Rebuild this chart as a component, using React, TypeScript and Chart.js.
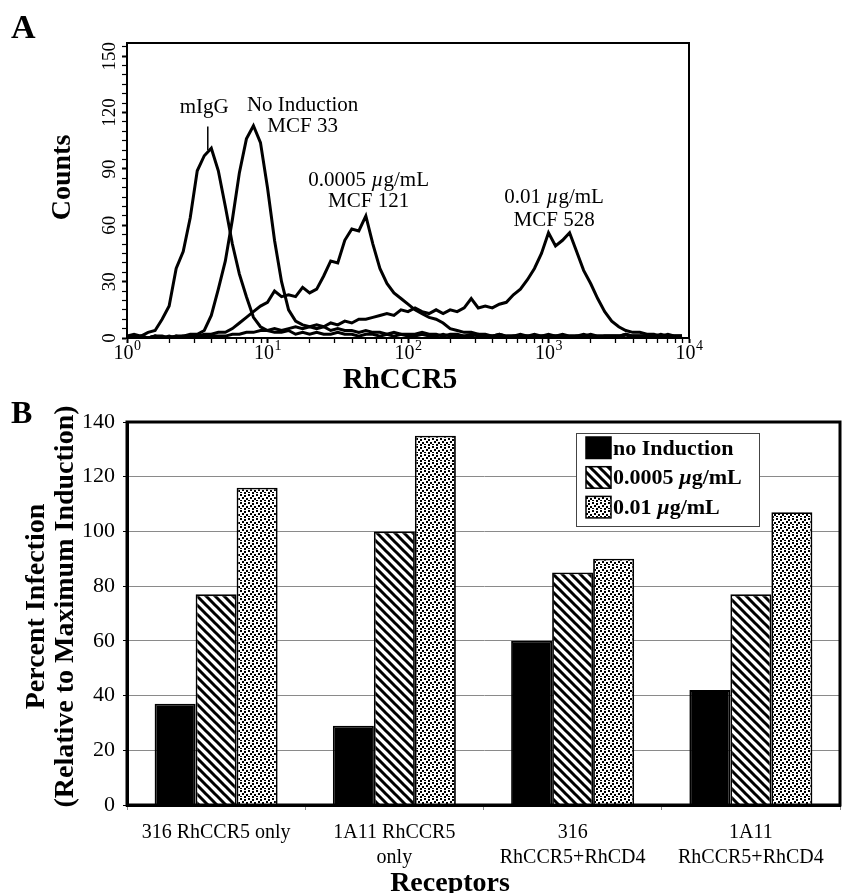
import React, { useEffect, useRef } from 'react';
import { Chart, registerables } from 'chart.js';

Chart.register(...registerables);

const SERIF = '"Liberation Serif", "Times New Roman", Times, serif';

// ---------------- Panel A: flow cytometry histograms ----------------
// channel positions (log10 of RhCCR5 fluorescence)
const channelExponents = [
  0, 0.05, 0.1, 0.15, 0.2, 0.25, 0.3, 0.35, 0.4, 0.45,
  0.5, 0.55, 0.6, 0.65, 0.7, 0.75, 0.8, 0.85, 0.9, 0.95,
  1, 1.05, 1.1, 1.15, 1.2, 1.25, 1.3, 1.35, 1.4, 1.45,
  1.5, 1.55, 1.6, 1.65, 1.7, 1.75, 1.8, 1.85, 1.9, 1.95,
  2, 2.05, 2.1, 2.15, 2.2, 2.25, 2.3, 2.35, 2.4, 2.45,
  2.5, 2.55, 2.6, 2.65, 2.7, 2.75, 2.8, 2.85, 2.9, 2.95,
  3, 3.05, 3.1, 3.15, 3.2, 3.25, 3.3, 3.35, 3.4, 3.45,
  3.5, 3.55, 3.6, 3.65, 3.7, 3.75, 3.8, 3.85, 3.9, 3.95,
];

const countsMIgG = [
  1, 2, 1, 3, 4, 10, 17, 37, 46, 64,
  89, 97, 101, 89, 70, 50, 34, 22, 11, 6,
  4, 3, 3, 4, 2, 3, 2, 3, 2, 2,
  3, 2, 2, 1, 2, 2, 1, 2, 1, 2,
  1, 1, 2, 1, 1, 2, 1, 1, 1, 2,
  1, 1, 1, 2, 1, 1, 1, 1, 2, 1,
  1, 1, 2, 1, 1, 1, 2, 1, 1, 1,
  1, 2, 1, 1, 1, 1, 2, 1, 1, 1,
];

const countsNoInduction = [
  1, 0, 1, 0, 1, 1, 0, 1, 1, 2,
  2, 4, 12, 26, 41, 63, 88, 106, 113, 104,
  80, 52, 30, 15, 9, 7, 6, 5, 6, 4,
  5, 4, 4, 3, 4, 3, 3, 2, 3, 2,
  2, 2, 3, 2, 2, 1, 2, 2, 1, 1,
  2, 1, 1, 1, 0, 1, 1, 1, 0, 1,
  1, 1, 1, 0, 1, 1, 1, 0, 1, 1,
  1, 0, 1, 1, 1, 0, 1, 1, 0, 1,
];

const counts00005 = [
  0, 0, 1, 0, 1, 0, 1, 0, 1, 1,
  1, 2, 2, 3, 3, 5, 8, 11, 14, 17,
  19, 25, 22, 23, 22, 27, 24, 26, 33, 41,
  40, 52, 58, 57, 65, 50, 37, 29, 24, 21,
  18, 15, 13, 11, 10, 8, 5, 4, 3, 3,
  2, 2, 1, 2, 1, 1, 2, 1, 1, 1,
  2, 1, 1, 1, 1, 2, 1, 1, 1, 1,
  1, 2, 1, 1, 1, 1, 1, 1, 1, 1,
];

const counts001 = [
  0, 1, 0, 0, 1, 0, 0, 1, 0, 1,
  0, 1, 1, 1, 1, 2, 2, 3, 3, 4,
  4, 5, 4, 5, 6, 5, 6, 7, 6, 8,
  7, 9, 8, 10, 10, 11, 12, 13, 12, 15,
  14, 16, 14, 13, 15, 13, 15, 14, 16, 21,
  16, 17, 16, 18, 19, 23, 26, 31, 37, 45,
  56, 49, 52, 56, 46, 36, 29, 21, 14, 9,
  6, 4, 3, 3, 2, 2, 1, 2, 1, 1,
];

const countTicks = [0, 30, 60, 90, 120, 150];
const decadeExponents = [0, 1, 2, 3, 4];

// ---------------- Panel B: infection bar chart ----------------
const receptorLabels = [
  ['316 RhCCR5 only'],
  ['1A11 RhCCR5', 'only'],
  ['316', 'RhCCR5+RhCD4'],
  ['1A11', 'RhCCR5+RhCD4'],
];
const seriesLabels = ['no Induction', '0.0005 µg/mL', '0.01 µg/mL'];
const infectionNoInduction = [37, 29, 60, 42];
const infection00005 = [77, 100, 85, 77];
const infection001 = [116, 135, 90, 107];

type Seg = { t: string; italic?: boolean };

function segsOf(text: string): Seg[] {
  return text
    .split(/(µ)/)
    .filter((s) => s.length > 0)
    .map((s) => ({ t: s, italic: s === 'µ' }));
}

function drawRich(
  ctx: CanvasRenderingContext2D,
  segs: Seg[],
  x: number,
  y: number,
  size: number,
  bold: boolean,
  align: 'center' | 'left'
) {
  const fontFor = (s: Seg) => `${s.italic ? 'italic ' : ''}${bold ? 'bold ' : ''}${size}px ${SERIF}`;
  let total = 0;
  const widths = segs.map((s) => {
    ctx.font = fontFor(s);
    const w = ctx.measureText(s.t).width;
    total += w;
    return w;
  });
  let cx = align === 'center' ? x - total / 2 : x;
  ctx.textAlign = 'left';
  ctx.textBaseline = 'alphabetic';
  segs.forEach((s, i) => {
    ctx.font = fontFor(s);
    ctx.fillText(s.t, cx, y);
    cx += widths[i];
  });
}

function makeHatch(): CanvasPattern | string {
  const s = 9;
  const c = document.createElement('canvas');
  c.width = s;
  c.height = s;
  const g = c.getContext('2d');
  if (!g) return '#888';
  g.fillStyle = '#fff';
  g.fillRect(0, 0, s, s);
  g.strokeStyle = '#000';
  g.lineWidth = 3;
  g.beginPath();
  g.moveTo(-1, -1);
  g.lineTo(s + 1, s + 1);
  g.moveTo(s - 3, -3);
  g.lineTo(s + 3, 3);
  g.moveTo(-3, s - 3);
  g.lineTo(3, s + 3);
  g.stroke();
  return g.createPattern(c, 'repeat') || '#888';
}

function makeDots(): CanvasPattern | string {
  const c = document.createElement('canvas');
  c.width = 8;
  c.height = 8;
  const g = c.getContext('2d');
  if (!g) return '#bbb';
  g.fillStyle = '#fff';
  g.fillRect(0, 0, 8, 8);
  g.fillStyle = '#000';
  g.fillRect(0, 0, 2, 2);
  g.fillRect(4, 1, 2, 2);
  g.fillRect(2, 3, 2, 2);
  g.fillRect(6, 4, 2, 2);
  g.fillRect(0, 6, 2, 1);
  g.fillRect(4, 6, 2, 2);
  return g.createPattern(c, 'repeat') || '#bbb';
}

export default function App() {
  const refA = useRef<HTMLCanvasElement>(null);
  const refB = useRef<HTMLCanvasElement>(null);

  useEffect(() => {
    if (!refA.current || !refB.current) return;

    const mkSeries = (arr: number[]) => channelExponents.map((e, i) => ({ x: Math.pow(10, e), y: arr[i] }));
    const lineStyle = {
      borderColor: '#000',
      borderWidth: 3,
      pointRadius: 0,
      fill: false,
      tension: 0,
      borderJoinStyle: 'miter',
    };

    const histDecor = {
      id: 'histDecor',
      afterDraw(chart: any) {
        const { ctx, chartArea: ca } = chart;
        const x = chart.scales.x;
        const y = chart.scales.y;
        ctx.save();
        ctx.strokeStyle = '#000';
        ctx.lineWidth = 2;
        ctx.strokeRect(ca.left, ca.top, ca.right - ca.left, ca.bottom - ca.top);
        ctx.fillStyle = '#000';

        // rotated count labels
        ctx.font = `19px ${SERIF}`;
        ctx.textAlign = 'center';
        ctx.textBaseline = 'alphabetic';
        countTicks.forEach((v) => {
          const py = y.getPixelForValue(v);
          ctx.save();
          ctx.translate(ca.left - 12, py);
          ctx.rotate(-Math.PI / 2);
          ctx.fillText(String(v), 0, 0);
          ctx.restore();
        });

        // decade labels 10^n
        decadeExponents.forEach((d) => {
          const px = x.getPixelForValue(Math.pow(10, d));
          ctx.font = `20px ${SERIF}`;
          const wb = ctx.measureText('10').width;
          ctx.font = `14px ${SERIF}`;
          const ws = ctx.measureText(String(d)).width;
          const x0 = px - (wb + ws) / 2;
          ctx.textAlign = 'left';
          ctx.font = `20px ${SERIF}`;
          ctx.fillText('10', x0, ca.bottom + 21);
          ctx.font = `14px ${SERIF}`;
          ctx.fillText(String(d), x0 + wb + 0.5, ca.bottom + 12);
        });

        // axis titles
        ctx.font = `bold 28px ${SERIF}`;
        ctx.textAlign = 'center';
        ctx.save();
        ctx.translate(70, (ca.top + ca.bottom) / 2 - 13);
        ctx.rotate(-Math.PI / 2);
        ctx.fillText('Counts', 0, 0);
        ctx.restore();
        ctx.font = `bold 29px ${SERIF}`;
        ctx.fillText('RhCCR5', (ca.left + ca.right) / 2 - 8, ca.bottom + 50);

        // panel letter
        ctx.font = `bold 34px ${SERIF}`;
        ctx.textAlign = 'left';
        ctx.fillText('A', 11, 38);

        // curve annotations (anchored in data space)
        const note = (lines: string[], exp: number, yVals: number[]) => {
          const px = x.getPixelForValue(Math.pow(10, exp));
          lines.forEach((ln, i) => {
            drawRich(ctx, segsOf(ln), px, y.getPixelForValue(yVals[i]), 21, false, 'center');
          });
        };
        note(['mIgG'], 0.55, [120]);
        note(['No Induction', 'MCF 33'], 1.25, [121, 109.5]);
        note(['0.0005 µg/mL', 'MCF 121'], 1.72, [81, 69.5]);
        note(['0.01 µg/mL', 'MCF 528'], 3.04, [72, 59.5]);

        // pointer under mIgG
        const lx = x.getPixelForValue(Math.pow(10, 0.575));
        ctx.lineWidth = 1.5;
        ctx.beginPath();
        ctx.moveTo(lx, y.getPixelForValue(112.5));
        ctx.lineTo(lx, y.getPixelForValue(100));
        ctx.stroke();
        ctx.restore();
      },
    };

    const chartA = new Chart(refA.current, {
      type: 'line',
      data: {
        datasets: [
          { label: 'mIgG', data: mkSeries(countsMIgG), ...lineStyle },
          { label: 'No Induction', data: mkSeries(countsNoInduction), ...lineStyle },
          { label: '0.0005 µg/mL', data: mkSeries(counts00005), ...lineStyle },
          { label: '0.01 µg/mL', data: mkSeries(counts001), ...lineStyle },
        ],
      },
      options: {
        responsive: false,
        animation: false,
        devicePixelRatio: 1,
        layout: { padding: { top: 43, right: 153, left: 0, bottom: 0 } },
        plugins: { legend: { display: false }, tooltip: { enabled: false } },
        scales: {
          x: {
            type: 'logarithmic',
            min: 1,
            max: 10000,
            afterBuildTicks: (scale: any) => {
              const t: { value: number }[] = [];
              [1, 10, 100, 1000].forEach((base) => {
                for (let m = 1; m < 10; m++) t.push({ value: m * base });
              });
              t.push({ value: 10000 });
              scale.ticks = t;
            },
            afterFit: (scale: any) => {
              scale.height = 52;
            },
            ticks: { display: false },
            grid: {
              display: true,
              drawOnChartArea: false,
              drawTicks: true,
              tickLength: 5,
              tickColor: '#000',
              tickWidth: (c: any) => {
                const v = c.tick ? c.tick.value : 0;
                return Math.abs(Math.log10(v) - Math.round(Math.log10(v))) < 1e-6 ? 2 : 1.3;
              },
            },
            border: { display: true, color: '#000', width: 2 },
          },
          y: {
            type: 'linear',
            min: 0,
            max: 157,
            afterBuildTicks: (scale: any) => {
              const t: { value: number }[] = [];
              for (let v = 0; v <= 155; v += 5) t.push({ value: v });
              scale.ticks = t;
            },
            afterFit: (scale: any) => {
              scale.width = 127;
            },
            ticks: { display: false },
            grid: {
              display: true,
              drawOnChartArea: false,
              drawTicks: true,
              tickLength: 5,
              tickColor: '#000',
              tickWidth: (c: any) => (c.tick && c.tick.value % 30 === 0 ? 2 : 1.2),
            },
            border: { display: true, color: '#000', width: 2 },
          },
        },
      },
      plugins: [histDecor],
    } as any);

    // -------- Panel B --------
    const hatch = makeHatch();
    const dots = makeDots();

    const barDecor = {
      id: 'barDecor',
      afterDraw(chart: any) {
        const { ctx, chartArea: ca } = chart;
        ctx.save();
        ctx.strokeStyle = '#000';
        ctx.lineWidth = 3;
        ctx.strokeRect(ca.left, ca.top, ca.right - ca.left, ca.bottom - ca.top);

        // legend
        const bx = 576;
        const by = 43;
        const bw = 183;
        const bh = 93;
        ctx.fillStyle = '#fff';
        ctx.fillRect(bx, by, bw, bh);
        ctx.strokeStyle = '#444';
        ctx.lineWidth = 1;
        ctx.strokeRect(bx + 0.5, by + 0.5, bw, bh);
        chart.data.datasets.forEach((ds: any, i: number) => {
          const sy = by + 4 + i * 29.7;
          ctx.fillStyle = ds.backgroundColor;
          ctx.fillRect(bx + 10, sy, 25, 21.5);
          ctx.strokeStyle = '#000';
          ctx.lineWidth = 1.5;
          ctx.strokeRect(bx + 10, sy, 25, 21.5);
          ctx.fillStyle = '#000';
          drawRich(ctx, segsOf(ds.label), bx + 37, sy + 17.5, 22, true, 'left');
        });

        // titles
        ctx.fillStyle = '#000';
        ctx.font = `bold 28px ${SERIF}`;
        ctx.textAlign = 'center';
        ctx.textBaseline = 'alphabetic';
        const cy = (ca.top + ca.bottom) / 2 - 7;
        ctx.save();
        ctx.translate(43.5, cy);
        ctx.rotate(-Math.PI / 2);
        ctx.fillText('Percent Infection', 0, 0);
        ctx.restore();
        ctx.save();
        ctx.translate(73, cy);
        ctx.rotate(-Math.PI / 2);
        ctx.fillText('(Relative to Maximum Induction)', 0, 0);
        ctx.restore();
        ctx.fillText('Receptors', 450, ca.bottom + 86);

        ctx.font = `bold 32px ${SERIF}`;
        ctx.textAlign = 'left';
        ctx.fillText('B', 11, 33);
        ctx.restore();
      },
    };

    const barStyle = { borderColor: '#000', borderWidth: 1.8, borderSkipped: 'start' };

    const chartB = new Chart(refB.current, {
      type: 'bar',
      data: {
        labels: receptorLabels,
        datasets: [
          { label: seriesLabels[0], data: infectionNoInduction, backgroundColor: '#000', ...barStyle },
          { label: seriesLabels[1], data: infection00005, backgroundColor: hatch, ...barStyle },
          { label: seriesLabels[2], data: infection001, backgroundColor: dots, ...barStyle },
        ],
      },
      options: {
        responsive: false,
        animation: false,
        devicePixelRatio: 1,
        layout: { padding: { top: 32, right: 2, left: 0, bottom: 0 } },
        datasets: { bar: { categoryPercentage: 0.69, barPercentage: 1 } },
        plugins: { legend: { display: false }, tooltip: { enabled: false } },
        scales: {
          x: {
            afterFit: (scale: any) => {
              scale.height = 88;
            },
            ticks: {
              color: '#000',
              font: { family: SERIF, size: 20, lineHeight: 1.25 },
              padding: 10,
              autoSkip: false,
              maxRotation: 0,
            },
            grid: {
              display: true,
              offset: true,
              drawOnChartArea: false,
              drawTicks: true,
              tickLength: 5,
              tickColor: '#888',
            },
            border: { display: true, color: '#000', width: 3 },
          },
          y: {
            min: 0,
            max: 140,
            afterFit: (scale: any) => {
              scale.width = 127;
            },
            ticks: {
              stepSize: 20,
              color: '#000',
              font: { family: SERIF, size: 22 },
              padding: 8,
            },
            grid: {
              display: true,
              drawTicks: true,
              tickLength: 4,
              tickColor: '#000',
              color: (c: any) =>
                c.tick && (c.tick.value === 0 || c.tick.value === 140) ? 'rgba(0,0,0,0)' : '#8a8a8a',
              lineWidth: 1,
            },
            border: { display: true, color: '#000', width: 3 },
          },
        },
      },
      plugins: [barDecor],
    } as any);

    return () => {
      chartA.destroy();
      chartB.destroy();
    };
  }, []);

  return (
    <div style={{ position: 'absolute', left: 0, top: 0, width: 842, height: 893, background: '#fff' }}>
      <canvas ref={refA} width={842} height={390} style={{ position: 'absolute', left: 0, top: 0 }} />
      <canvas ref={refB} width={842} height={503} style={{ position: 'absolute', left: 0, top: 390 }} />
    </div>
  );
}
